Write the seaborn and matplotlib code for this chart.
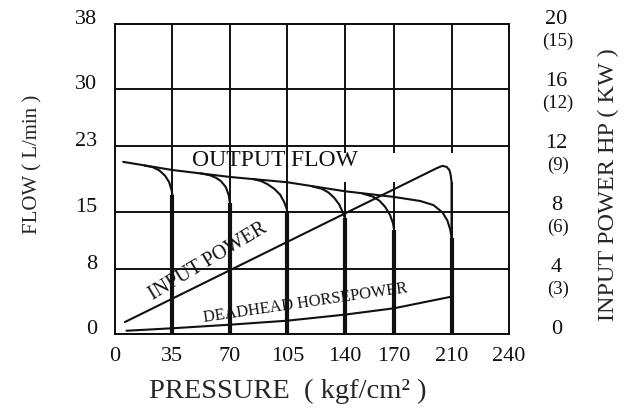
import matplotlib
matplotlib.use('Agg')
import matplotlib.pyplot as plt
import matplotlib.transforms as mtransforms
import pandas as pd
import seaborn as sns

# ejes
pressure_ticks = [0, 35, 70, 105, 140, 170, 205, 240]
pressure_labels = ['0', '35', '70', '105', '140', '170', '210', '240']
flow_ticks = [0, 8, 15, 23, 30, 38]
hp_ticks = [0, 4, 8, 12, 16, 20]
kw_labels = ['', '(3)', '(6)', '(9)', '(12)', '(15)']

# caudal de salida (L/min), con la caida final en 210
flow_x = [5, 35, 70, 105, 140, 170, 186, 194, 199.5, 202.5, 204.2, 205, 205]
flow_y = [21.1, 20.1, 19.25, 18.6, 17.5, 16.8, 16.3, 15.8, 14.9, 13.9, 12.8, 11.8, 0]

# curvas de alivio para cada presion
relief_35_x = [18, 23, 27, 30.5, 33, 34.5, 35, 35]
relief_35_y = [20.65, 20.45, 20.05, 19.4, 18.6, 17.6, 17.0, 0]
relief_70_x = [52, 58, 61.5, 64.5, 67.5, 69.3, 70, 70]
relief_70_y = [19.7, 19.45, 19.15, 18.75, 18.0, 17.0, 16.0, 0]
relief_105_x = [84, 89, 93, 97, 100.5, 103, 104.5, 105, 105]
relief_105_y = [19.0, 18.75, 18.35, 17.8, 17.1, 16.2, 15.4, 14.9, 0]
relief_140_x = [120, 126, 130, 133.5, 136.5, 138.8, 140, 140]
relief_140_y = [18.1, 17.8, 17.35, 16.7, 15.9, 14.9, 14.2, 0]
relief_170_x = [151, 157, 161, 164.5, 167.5, 169.3, 170, 170]
relief_170_y = [17.2, 16.85, 16.35, 15.6, 14.6, 13.6, 12.8, 0]

# potencia de entrada (HP)
power_x = [6, 196, 199.5, 202, 203.7, 204.5, 205, 205]
power_hp = [0.77, 10.7, 10.85, 10.78, 10.58, 10.25, 9.8, 0]

# potencia en punto muerto (HP)
deadhead_x = [7, 35, 70, 105, 140, 170, 205]
deadhead_hp = [0.21, 0.37, 0.6, 0.86, 1.25, 1.66, 2.41]

ink = '#111111'
sns.set_style('white')
plt.rcParams['font.family'] = ['Liberation Serif', 'DejaVu Serif']
plt.rcParams['text.color'] = ink
plt.rcParams['xtick.color'] = ink
plt.rcParams['ytick.color'] = ink

fig = plt.figure(figsize=(6.33, 4.10), dpi=100)
ax = fig.add_axes([115 / 633, 75 / 410, 394 / 633, 310 / 410])
ax.set_xlim(0, 240)
ax.set_ylim(0, 38)
ax2 = ax.twinx()
ax2.set_ylim(0, 20)

# rejilla (algunas verticales cortadas bajo la linea de 23)
gap = (18.6, 22.2)
for y in flow_ticks[1:-1]:
    ax.axhline(y, color=ink, lw=1.4, zorder=1)
for x in pressure_ticks[1:-1]:
    if x >= 140:
        ax.vlines(x, 0, gap[0], color=ink, lw=1.4, zorder=1)
        ax.vlines(x, gap[1], 38, color=ink, lw=1.4, zorder=1)
    else:
        ax.vlines(x, 0, 38, color=ink, lw=1.4, zorder=1)

curves = [(flow_x, flow_y), (relief_35_x, relief_35_y), (relief_70_x, relief_70_y),
          (relief_105_x, relief_105_y), (relief_140_x, relief_140_y),
          (relief_170_x, relief_170_y)]
for cx, cy in curves:
    df = pd.DataFrame({'p': cx, 'q': cy})
    sns.lineplot(data=df, x='p', y='q', ax=ax, color=ink, lw=1.5, sort=False,
                 estimator=None, solid_joinstyle='round', zorder=3)
    # tramo vertical grueso
    ax.vlines(cx[-1], 0, cy[-2], color=ink, lw=3, zorder=3)

dfp = pd.DataFrame({'p': power_x, 'hp': power_hp})
sns.lineplot(data=dfp, x='p', y='hp', ax=ax2, color=ink, lw=1.5, sort=False,
             estimator=None, solid_joinstyle='round', zorder=3)
dfd = pd.DataFrame({'p': deadhead_x, 'hp': deadhead_hp})
sns.lineplot(data=dfd, x='p', y='hp', ax=ax2, color=ink, lw=1.5, sort=False,
             estimator=None, zorder=3)

for a in (ax, ax2):
    for s in a.spines.values():
        s.set_color(ink)
        s.set_linewidth(1.4)
        s.set_visible(True)

# ticks
ax.set_xticks(pressure_ticks)
ax.set_xticklabels(pressure_labels, fontsize=16)
ax.set_yticks(flow_ticks)
ax.set_yticklabels([str(v) for v in flow_ticks], fontsize=16)
ax.tick_params(length=0)
ax.tick_params(axis='x', pad=9)
ax.tick_params(axis='y', pad=13)
up = mtransforms.ScaledTranslation(0, 8 / 100, fig.dpi_scale_trans)
for lab in ax.get_yticklabels():
    lab.set_transform(lab.get_transform() + up)

ax2.set_yticks(hp_ticks)
ax2.set_yticklabels([str(v) for v in hp_ticks], fontsize=16)
ax2.tick_params(length=0, pad=34)
for lab in ax2.get_yticklabels():
    lab.set_horizontalalignment('center')
    lab.set_transform(lab.get_transform() + up)

down = mtransforms.ScaledTranslation(0, -16 / 100, fig.dpi_scale_trans)
blend = mtransforms.blended_transform_factory(ax2.transAxes, ax2.transData)
for v, kw in zip(hp_ticks, kw_labels):
    ax2.text(1.124, v, kw, transform=blend + down, ha='center', va='center',
             fontsize=13.5)

# etiquetas
ax.set_xlabel('PRESSURE  ( kgf/cm² )', fontsize=20.5)
ax.xaxis.set_label_coords(0.438, -0.142)
ax.set_ylabel('FLOW ( L/min )', fontsize=15)
ax.yaxis.set_label_coords(-0.183, 0.552)
ax2.set_ylabel('INPUT POWER HP ( KW )', fontsize=17.5)
ax2.yaxis.set_label_coords(1.226, 0.484)

ax.text(97.5, 21.45, 'OUTPUT FLOW', fontsize=17, ha='center', va='center')
ax.text(56.6, 8.95, 'INPUT POWER', fontsize=14.5, ha='center', va='center',
        rotation=31, rotation_mode='anchor')
ax.text(115.7, 3.92, 'DEADHEAD HORSEPOWER', fontsize=11.8, ha='center',
        va='center', rotation=8.3, rotation_mode='anchor')

fig.savefig('out.png', dpi=100)
